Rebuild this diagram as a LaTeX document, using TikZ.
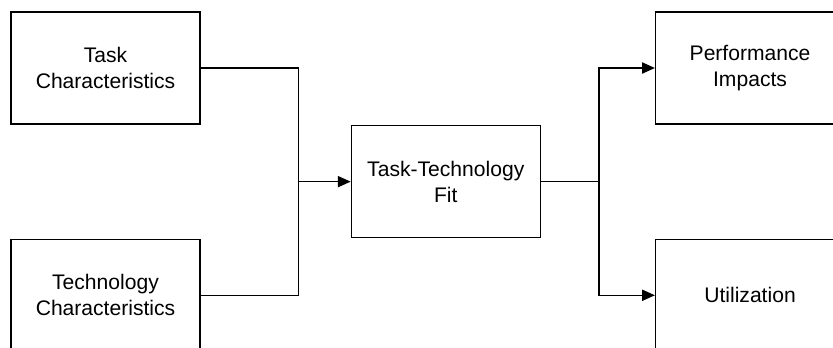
\documentclass[tikz,border=0pt]{standalone}
\usepackage{fontspec}
\setmainfont{Liberation Sans}
\usepackage{tikz}
\usetikzlibrary{arrows.meta, positioning, calc}

\begin{document}
\begin{tikzpicture}[>={Triangle[length=0.32cm, width=0.28cm]},
    blockbox/.style={draw, line width=0.9pt, minimum width=4.725cm,
          minimum height=2.8cm, align=center, inner sep=0pt,
          font=\fontsize{15}{18.4}\selectfont},
    link/.style={line width=0.9pt}]
    \node[blockbox] (task) at (0,0) {Task\\Characteristics};
    % page frame, cut off like the original picture
    \path[use as bounding box] ($(task.center)+(-2.6375,1.7)$) rectangle ++(20.825,-8.675);
    \clip ($(task.center)+(-2.6375,1.7)$) rectangle ++(20.825,-8.675);
    \node[blockbox, below=2.85cm of task] (tech) {Technology\\Characteristics};
    \coordinate (mid) at ($(task.east)!0.5!(tech.east)$);
    \node[blockbox, right=3.75cm of mid, anchor=west] (ttf) {Task-Technology\\Fit};
    \node[blockbox, anchor=west] (perf) at ($(ttf.east |- task.east)+(2.85,0)$) {Performance\\Impacts};
    \node[blockbox, anchor=west] (util) at ($(ttf.east |- tech.east)+(2.85,0)$) {Utilization};
    % joins
    \coordinate (ljoin) at ($(mid)+(2.45,0)$);
    \coordinate (rjoin) at ($(ttf.east)+(1.45,0)$);
    \draw[link] (task.east) -| (ljoin) |- (tech.east);
    \draw[link, ->] (ljoin) -- (ttf.west);
    \draw[link] (ttf.east) -- (rjoin);
    \foreach \t in {perf, util}
      \draw[link, ->] (rjoin) |- (\t.west);
  \end{tikzpicture}
\end{document}
